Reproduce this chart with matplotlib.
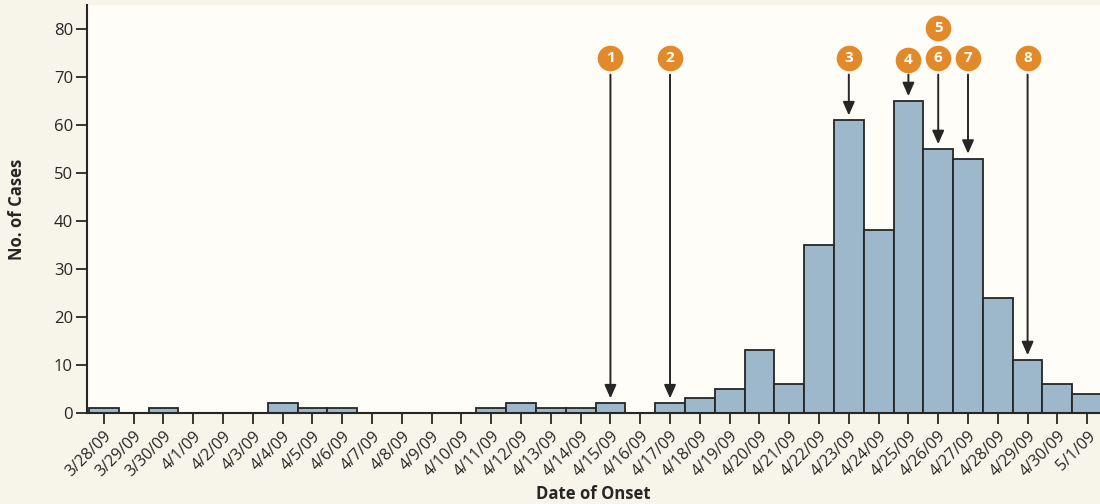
import matplotlib
matplotlib.use('Agg')
import matplotlib.pyplot as plt
import numpy as np

dates = ['3/28/09', '3/29/09', '3/30/09', '4/1/09', '4/2/09', '4/3/09', '4/4/09', '4/5/09',
         '4/6/09', '4/7/09', '4/8/09', '4/9/09', '4/10/09', '4/11/09', '4/12/09', '4/13/09',
         '4/14/09', '4/15/09', '4/16/09', '4/17/09', '4/18/09', '4/19/09', '4/20/09', '4/21/09',
         '4/22/09', '4/23/09', '4/24/09', '4/25/09', '4/26/09', '4/27/09', '4/28/09', '4/29/09',
         '4/30/09', '5/1/09']
cases = [1, 0, 1, 0, 0, 0, 2, 1, 1, 0, 0, 0, 0, 1, 2, 1, 1, 2, 0, 2, 3, 5, 13, 6,
         35, 61, 38, 65, 55, 53, 24, 11, 6, 4]

event_labels = ['1', '2', '3', '4', '5', '6', '7', '8']
event_dates = ['4/15/09', '4/17/09', '4/23/09', '4/25/09', '4/26/09', '4/26/09', '4/27/09', '4/29/09']

fig_bg = '#f7f4e9'
ax_bg = '#fffdf8'
bar_color = '#9cb8ca'
dark = '#262626'
orange = '#e2892a'

plt.rcParams['font.family'] = ['Open Sans', 'DejaVu Sans']

fig = plt.figure(figsize=(11, 5.04), dpi=100, facecolor=fig_bg)
ax = fig.add_axes([0.079, 0.181, 0.921, 0.809], facecolor=ax_bg)

x = np.arange(len(dates))
ax.bar(x, cases, width=1.0, color=bar_color, edgecolor=dark, linewidth=1.3, zorder=2)

ax.set_xlim(-0.57, len(dates) - 0.57)
ax.set_ylim(0, 85)
ax.set_yticks(range(0, 81, 10))
ax.set_xticks(x)
ax.set_xticklabels(dates, rotation=45, ha='right', rotation_mode='anchor', fontsize=11.5, color=dark)
ax.tick_params(axis='y', labelsize=12, labelcolor=dark, length=8, width=1.3, color=dark, pad=2)
ax.tick_params(axis='x', length=8, width=1.3, color=dark, pad=3)

for s in ['top', 'right']:
    ax.spines[s].set_visible(False)
for s in ['left', 'bottom']:
    ax.spines[s].set_color(dark)
    ax.spines[s].set_linewidth(1.5)

ax.set_ylabel('No. of Cases', fontsize=12, fontweight='bold', color=dark, labelpad=20)
ax.set_xlabel('Date of Onset', fontsize=12, fontweight='bold', color=dark, labelpad=4)

# numbered event markers with arrows pointing at the bars
seen = {}
for lab, d in zip(event_labels, event_dates):
    i = dates.index(d)
    seen[d] = seen.get(d, 0) + 1
    cy = 74 if lab != '4' else 73.5
    stacked = sum(1 for e in event_dates if e == d) > 1
    if stacked and seen[d] == 1:
        cy = 80.2
    else:
        ax.annotate('', xy=(i, cases[i] + 1.0), xytext=(i, 70.5),
                    arrowprops=dict(arrowstyle='-|>,head_length=0.5,head_width=0.22', color=dark,
                                    lw=1.4, mutation_scale=16, shrinkA=0, shrinkB=0),
                    zorder=4, annotation_clip=False)
    ax.scatter([i], [cy], s=340, color=orange, zorder=5, clip_on=False, linewidths=0)
    ax.text(i, cy, lab, ha='center', va='center', color='white', fontsize=11,
            fontweight='bold', zorder=6)

fig.savefig('out.png', dpi=100, facecolor=fig_bg)
